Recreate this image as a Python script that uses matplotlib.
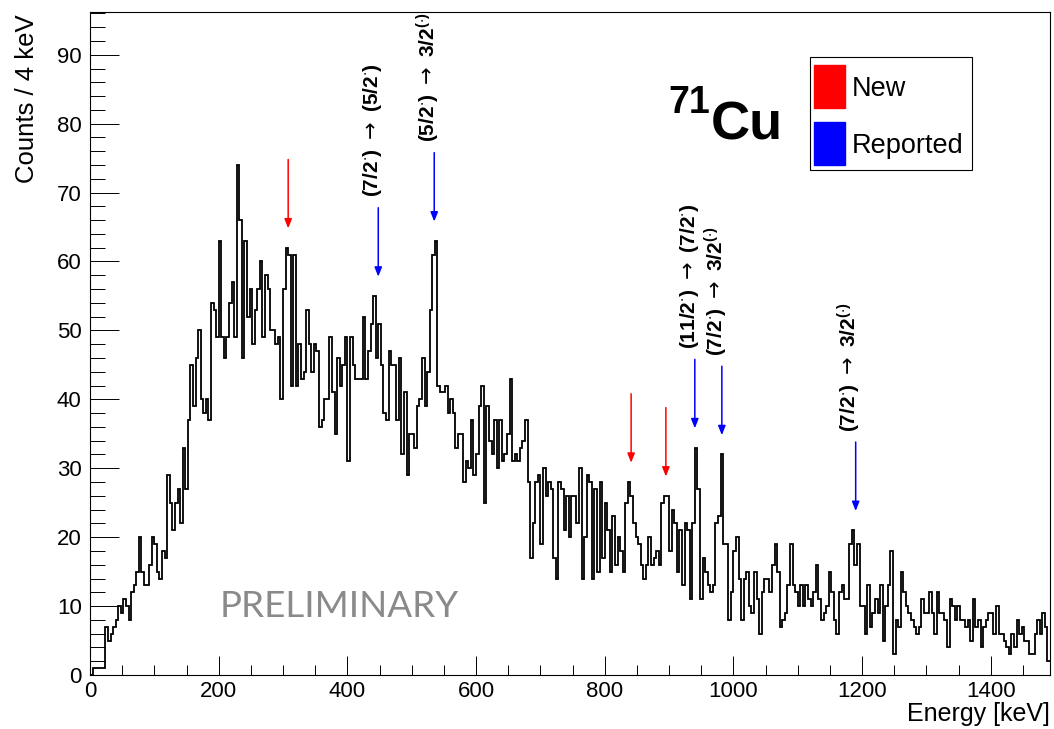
import numpy as np
import matplotlib
matplotlib.use("Agg")
from matplotlib import pyplot as plt
from matplotlib.ticker import MultipleLocator
from matplotlib.patches import Rectangle

plt.rcParams["font.family"] = ["Liberation Sans", "DejaVu Sans"]
plt.rcParams["mathtext.default"] = "regular"

# gamma spectrum, 4 keV bins starting at 0 keV
bin_width = 4
counts = [
    0, 1, 1, 1, 1, 1, 7, 5, 6, 7,
    8, 10, 9, 11, 10, 8, 12, 13, 15, 20,
    15, 13, 13, 16, 20, 19, 15, 14, 18, 17,
    29, 25, 21, 25, 27, 22, 33, 27, 37, 45,
    39, 46, 50, 40, 38, 40, 37, 54, 53, 49,
    63, 49, 46, 49, 54, 57, 49, 74, 66, 46,
    63, 52, 56, 48, 53, 56, 60, 49, 58, 56,
    50, 50, 48, 49, 40, 56, 62, 61, 42, 61,
    42, 48, 43, 44, 53, 48, 44, 48, 47, 36,
    37, 40, 40, 49, 41, 35, 46, 42, 45, 49,
    31, 49, 45, 43, 43, 43, 52, 43, 47, 51,
    55, 46, 51, 45, 38, 37, 47, 45, 45, 37,
    46, 32, 41, 29, 35, 35, 33, 39, 40, 46,
    39, 44, 53, 61, 63, 42, 41, 41, 42, 38,
    40, 38, 33, 35, 35, 28, 31, 30, 37, 29,
    32, 39, 42, 25, 39, 34, 32, 37, 30, 37,
    31, 32, 35, 43, 31, 32, 31, 33, 34, 37,
    28, 17, 22, 28, 29, 19, 30, 26, 28, 27,
    17, 14, 28, 27, 21, 26, 20, 26, 26, 22,
    30, 14, 20, 29, 28, 14, 27, 15, 28, 17,
    25, 21, 15, 23, 16, 20, 18, 15, 25, 28,
    26, 22, 20, 19, 16, 14, 16, 20, 16, 17,
    18, 16, 25, 26, 26, 18, 24, 22, 15, 21,
    13, 22, 21, 11, 22, 33, 27, 11, 17, 15,
    13, 12, 13, 22, 23, 32, 19, 19, 8, 12,
    18, 20, 14, 8, 14, 15, 10, 9, 15, 11,
    6, 12, 14, 14, 12, 16, 19, 15, 7, 8,
    9, 13, 19, 13, 12, 10, 13, 10, 13, 11,
    10, 12, 16, 11, 8, 9, 10, 15, 12, 8,
    6, 12, 13, 11, 11, 19, 21, 16, 19, 10,
    10, 6, 13, 7, 9, 11, 9, 13, 5, 10,
    13, 18, 3, 8, 7, 15, 12, 10, 9, 8,
    7, 6, 7, 11, 9, 9, 12, 9, 6, 12,
    9, 9, 8, 4, 11, 10, 8, 10, 8, 8,
    7, 8, 5, 11, 7, 8, 4, 7, 8, 9,
    9, 6, 10, 6, 6, 5, 4, 3, 6, 4,
    8, 6, 7, 5, 5, 3, 3, 6, 8, 6,
    9, 7, 2,
]

new_lines = [308, 841, 895]
reported_lines = [448, 535, 940, 982, 1190]
reported_labels = [
    r"(7/2$^{\cdot}$) $\mathrm{\rightarrow}$ (5/2$^{\cdot}$)",
    r"(5/2$^{\cdot}$) $\mathrm{\rightarrow}$ 3/2$^{(\cdot)}$",
    r"(11/2$^{\cdot}$) $\mathrm{\rightarrow}$ (7/2$^{\cdot}$)",
    r"(7/2$^{\cdot}$) $\mathrm{\rightarrow}$ 3/2$^{(\cdot)}$",
    r"(7/2$^{\cdot}$) $\mathrm{\rightarrow}$ 3/2$^{(\cdot)}$",
]

counts = np.array(counts)
edges = np.arange(len(counts) + 1) * bin_width
centers = edges[:-1] + bin_width / 2

fig = plt.figure(figsize=(10.54, 7.29), dpi=100)
ax = fig.add_axes([90 / 1054, 1 - 675 / 729, 960 / 1054, 663 / 729])

ax.stairs(counts, edges, color="black", lw=1.3, baseline=None)

ax.set_xlim(0, 1492)
ax.set_ylim(0, 96.2)

ax.xaxis.set_major_locator(MultipleLocator(200))
ax.xaxis.set_minor_locator(MultipleLocator(50))
ax.yaxis.set_major_locator(MultipleLocator(10))
ax.yaxis.set_minor_locator(MultipleLocator(2))
ax.tick_params(axis="x", which="major", direction="in", length=14, width=0.7,
               labelsize=16, pad=4)
ax.tick_params(axis="x", which="minor", direction="in", length=7, width=0.7)
ax.tick_params(axis="y", which="major", direction="in", length=21, width=0.7,
               labelsize=16, pad=6)
ax.tick_params(axis="y", which="minor", direction="in", length=10.5, width=0.7)
for sp in ax.spines.values():
    sp.set_linewidth(0.8)

fig.text(27 / 1054, 1 - 14 / 729, "Counts / 4 keV", rotation=90,
         ha="center", va="top", fontsize=18.5)
fig.text(1050 / 1054, 1 - 714 / 729, "Energy [keV]", ha="right",
         va="center", fontsize=18)


def peak_top(e):
    sel = np.abs(centers - e) <= 8
    return counts[sel].max() + 2.8


arrow_len = 10
astyle = "-|>,head_length=0.55,head_width=0.22"
for e in new_lines:
    tip = peak_top(e)
    ax.annotate("", xy=(e, tip), xytext=(e, tip + arrow_len),
                arrowprops=dict(arrowstyle=astyle, color="red", lw=1.1,
                                mutation_scale=10, shrinkA=0, shrinkB=0))

for e, lab in zip(reported_lines, reported_labels):
    tip = peak_top(e)
    ax.annotate("", xy=(e, tip), xytext=(e, tip + arrow_len),
                arrowprops=dict(arrowstyle=astyle, color="blue", lw=1.1,
                                mutation_scale=10, shrinkA=0, shrinkB=0))
    ax.text(e - 9, tip + arrow_len + 1.5, lab, rotation=90, ha="center",
            va="bottom", fontsize=15, fontweight="bold", clip_on=False)

# nucleus label
fig.text(668 / 1054, 1 - 113 / 729, "71", fontsize=27, fontweight="bold",
         ha="left", va="baseline")
fig.text(711 / 1054, 1 - 140 / 729, "Cu", fontsize=39, fontweight="bold",
         ha="left", va="baseline")

# legend box
fig.patches.append(Rectangle((810 / 1054, 1 - 170 / 729), 162 / 1054, 113 / 729,
                             transform=fig.transFigure, fill=False,
                             edgecolor="black", lw=0.8))
fig.patches.append(Rectangle((814 / 1054, 1 - 108 / 729), 31 / 1054, 43 / 729,
                             transform=fig.transFigure, color="red"))
fig.patches.append(Rectangle((814 / 1054, 1 - 165 / 729), 31 / 1054, 43 / 729,
                             transform=fig.transFigure, color="blue"))
fig.text(852 / 1054, 1 - 89 / 729, "New", fontsize=19.5, va="center")
fig.text(852 / 1054, 1 - 146 / 729, "Reported", fontsize=19.5, va="center")

fig.text(220 / 1054, 1 - 617 / 729, "PRELIMINARY",
         fontsize=26.5, color="#8a8a8a", family="Lato", ha="left", va="baseline")

fig.savefig("out.png", dpi=100)
